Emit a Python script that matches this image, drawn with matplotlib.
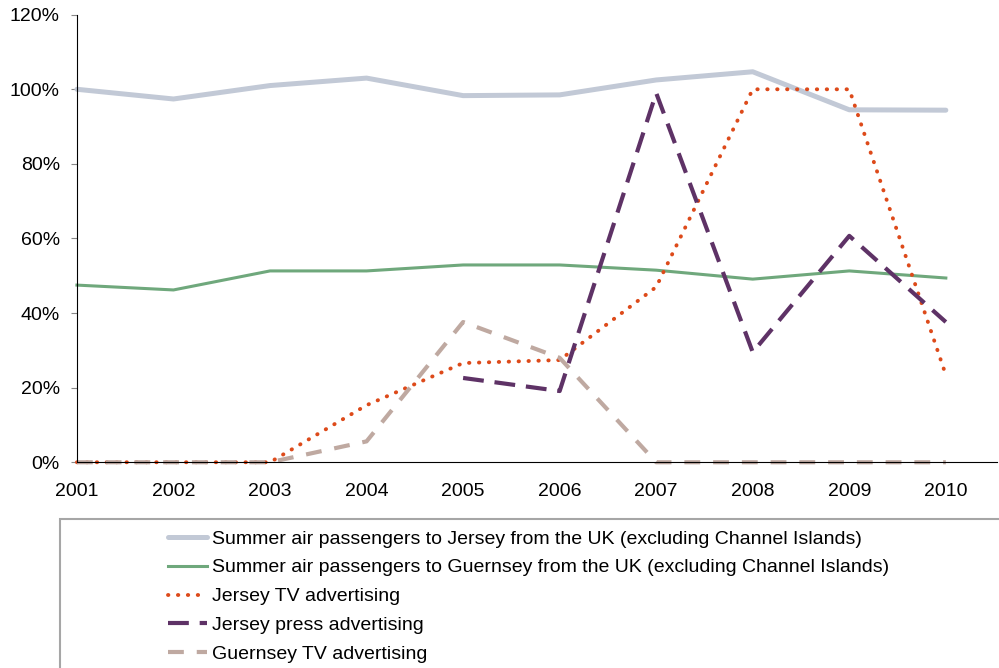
import matplotlib.pyplot as plt
import numpy as np
from matplotlib.patches import Rectangle
from matplotlib.ticker import FuncFormatter

plt.rcParams['font.family'] = ['Liberation Sans', 'DejaVu Sans']

years = [2001, 2002, 2003, 2004, 2005, 2006, 2007, 2008, 2009, 2010]

jersey_air = [100, 97.4, 101, 103, 98.3, 98.5, 102.5, 104.7, 94.5, 94.4]
guernsey_air = [47.5, 46.2, 51.3, 51.3, 52.9, 52.9, 51.5, 49.1, 51.3, 49.4]
jersey_tv = [0, 0, 0, 15.3, 26.6, 27.4, 47, 100, 100, 23.4]
jersey_press = [np.nan, np.nan, np.nan, np.nan, 22.6, 19.1, 99, 29.5, 60.7, 37.6]
guernsey_tv = [0, 0, 0, 5.6, 37.6, 28, 0, 0, 0, 0]

labels = [
    'Summer air passengers to Jersey from the UK (excluding Channel Islands)',
    'Summer air passengers to Guernsey from the UK (excluding Channel Islands)',
    'Jersey TV advertising',
    'Jersey press advertising',
    'Guernsey TV advertising',
]

fig = plt.figure(figsize=(9.99, 6.68), dpi=100)
ax = fig.add_axes([0.077, 0.308, 0.921, 0.670])

ax.plot(years, jersey_air, color='#C2C9D6', lw=3.6, label=labels[0],
        solid_capstyle='round', clip_on=False)
ax.plot(years, guernsey_air, color='#6FA87C', lw=2.2, label=labels[1], clip_on=False)
ax.plot(years, jersey_tv, color='#DD4A1A', lw=2.8, ls=(0, (0.1, 2.45)),
        dash_capstyle='round', label=labels[2], clip_on=False)
ax.plot(years, jersey_press, color='#5E3266', lw=3, ls=(0, (5.0, 2.6)),
        label=labels[3], clip_on=False)
ax.plot(years, guernsey_tv, color='#BFA9A1', lw=3, ls=(0, (3.8, 3.1)),
        label=labels[4], clip_on=False)

ax.set_xlim(2001, 2010.53)
ax.set_ylim(0, 120)
ax.set_yticks(np.arange(0, 121, 20))
ax.yaxis.set_major_formatter(FuncFormatter(lambda v, p: f'{v:.0f}%'))
ax.set_xticks(years)

ax.spines['top'].set_visible(False)
ax.spines['right'].set_visible(False)
ax.spines['left'].set_color('black')
ax.spines['bottom'].set_color('black')
ax.tick_params(axis='y', length=4.3, color='#888888', labelsize=14, pad=8)
ax.tick_params(axis='x', length=0, labelsize=14, pad=15)

# open box under the plot that runs off the right and bottom edges
box = Rectangle((60 / 999, -0.05), 1.1, 1 - 519 / 668 + 0.05,
                transform=fig.transFigure, fill=False,
                edgecolor='#a6a6a6', lw=1.5, clip_on=False)
fig.add_artist(box)

fig.legend(loc='upper left', bbox_to_anchor=(168 / 999, 1 - 530 / 668),
           ncol=1, fontsize=14, frameon=False,
           handlelength=2.0, handletextpad=0.25, labelspacing=0.58,
           borderaxespad=0, borderpad=0)

fig.savefig('out.png', dpi=100)
